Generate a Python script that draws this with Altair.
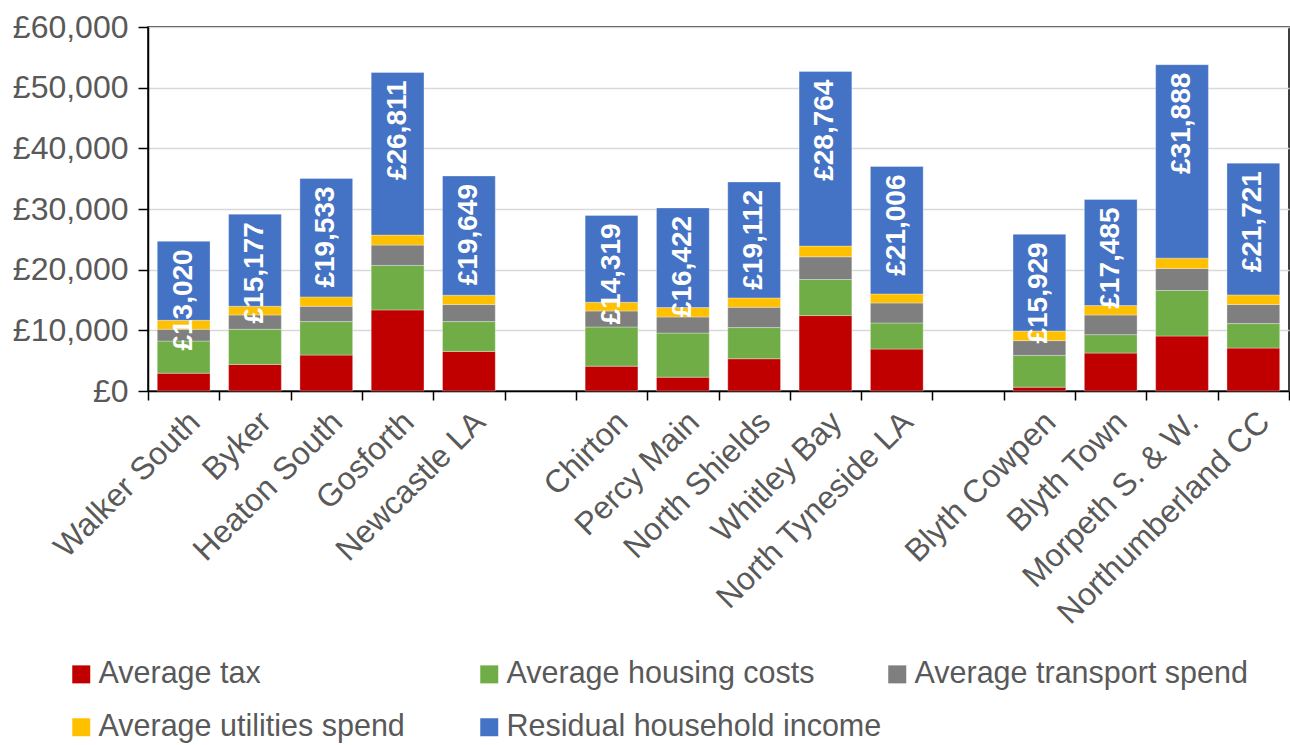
import altair as alt
import pandas as pd

categories = ["Walker South", "Byker", "Heaton South", "Gosforth", "Newcastle LA", " ",
              "Chirton", "Percy Main", "North Shields", "Whitley Bay", "North Tyneside LA", "  ",
              "Blyth Cowpen", "Blyth Town", "Morpeth S. & W.", "Northumberland CC"]

areas = ["Walker South", "Byker", "Heaton South", "Gosforth", "Newcastle LA",
         "Chirton", "Percy Main", "North Shields", "Whitley Bay", "North Tyneside LA",
         "Blyth Cowpen", "Blyth Town", "Morpeth S. & W.", "Northumberland CC"]

tax = [2940, 4380, 5920, 13360, 6530, 4100, 2280, 5320, 12430, 6910, 630, 6250, 9060, 7070]
housing = [5290, 5790, 5520, 7340, 4910, 6450, 7270, 5130, 5950, 4300, 5240, 3040, 7500, 4040]
transport = [1940, 2360, 2530, 3350, 2810, 2640, 2650, 3350, 3740, 3300, 2430, 3240, 3640, 3140]
utilities = [1480, 1440, 1540, 1650, 1540, 1440, 1550, 1540, 1770, 1490, 1590, 1550, 1700, 1590]
residual = [13020, 15177, 19533, 26811, 19649, 14319, 16422, 19112, 28764, 21006, 15929, 17485, 31888, 21721]

series = ["Average tax", "Average housing costs", "Average transport spend",
          "Average utilities spend", "Residual household income"]
colors = ["#C00000", "#70AD47", "#7F7F7F", "#FFC000", "#4472C4"]
y_ticks = [0, 10000, 20000, 30000, 40000, 50000, 60000]

rows = []
for i, a in enumerate(areas):
    for j, (s, vals) in enumerate(zip(series, [tax, housing, transport, utilities, residual])):
        rows.append({"area": a, "series": s, "value": vals[i], "idx": j})
df = pd.DataFrame(rows)

lab = pd.DataFrame({
    "area": areas,
    "total": [tax[i] + housing[i] + transport[i] + utilities[i] + residual[i] for i in range(len(areas))],
    "label": [f"£{v:,}" for v in residual],
})

x_enc = alt.X("area:N", scale=alt.Scale(domain=categories, paddingInner=0, paddingOuter=0),
              axis=alt.Axis(title=None, labelAngle=-45, labelAlign="right", labelBaseline="top",
                            labelFontSize=32, labelColor="#595959", labelPadding=6, labelLimit=400,
                            tickBand="extent", tickSize=9, tickColor="black", tickWidth=1.5,
                            domainColor="black", domainWidth=1.5, grid=False))

bars = alt.Chart(df).mark_bar(width=alt.RelativeBandSize(0.74), stroke="white", strokeWidth=0.8,
                              strokeOpacity=0.4).encode(
    x=x_enc,
    y=alt.Y("value:Q", stack="zero",
            scale=alt.Scale(domain=[0, 60000], nice=False),
            axis=alt.Axis(title=None, values=y_ticks,
                          labelExpr='"£" + format(datum.value, ",")',
                          labelFontSize=32, labelColor="#595959", labelPadding=10,
                          tickSize=10, tickColor="black", tickWidth=1.5,
                          domainColor="black", domainWidth=1.5,
                          grid=True, gridColor="#d9d9d9", gridWidth=1.5)),
    color=alt.Color("series:N", scale=alt.Scale(domain=series, range=colors),
                    legend=alt.Legend(title=None, orient="none", legendX=-82, legendY=632,
                                      direction="horizontal", columns=3, gridAlign="all",
                                      columnPadding=0, rowPadding=22,
                                      symbolType="square", symbolSize=324, symbolStrokeWidth=0,
                                      labelFontSize=30.5, labelColor="#595959", labelOffset=2,
                                      labelLimit=500)),
    order=alt.Order("idx:Q", sort="ascending"),
)

labels = alt.Chart(lab).mark_text(angle=270, align="right", baseline="middle", dx=-8,
                                  fontSize=28, fontWeight="bold", color="white").encode(
    x=alt.X("area:N", scale=alt.Scale(domain=categories)),
    y=alt.Y("total:Q"),
    text="label:N",
)

chart = alt.layer(bars, labels).properties(
    width=1141, height=364,
    autosize=alt.AutoSizeParams(type="none"),
    padding={"left": 148, "top": 27, "right": 1, "bottom": 354},
).configure(font="Liberation Sans").configure_view(stroke="black", strokeWidth=1.5)

chart.save("out.html", embed_options={"renderer": "svg", "actions": False})
